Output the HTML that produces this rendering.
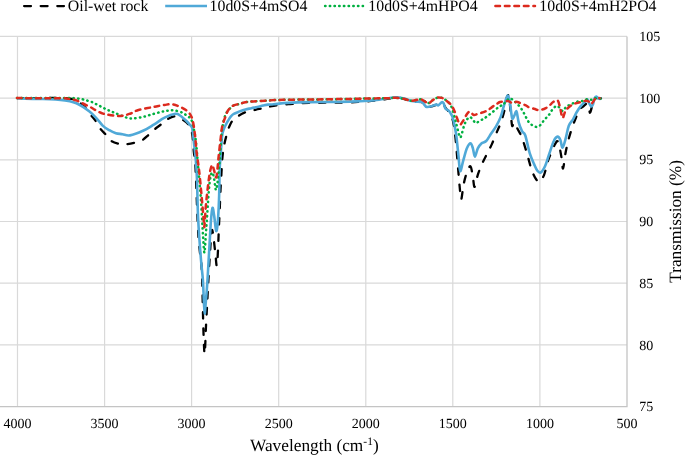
<!DOCTYPE html>
<html><head><meta charset="utf-8"><style>
html,body{margin:0;padding:0;background:#fff;}
svg{display:block;will-change:transform;}
text{font-family:"Liberation Serif",serif;fill:#000;text-rendering:geometricPrecision;}
</style></head><body>
<svg width="685" height="455" viewBox="0 0 685 455">
<rect width="685" height="455" fill="#fff"/>
<g stroke="#d9d9d9" stroke-width="1.2" fill="none"><line x1="17.5" y1="36.4" x2="17.5" y2="406.6" /><line x1="104.6" y1="36.4" x2="104.6" y2="406.6" /><line x1="191.6" y1="36.4" x2="191.6" y2="406.6" /><line x1="278.7" y1="36.4" x2="278.7" y2="406.6" /><line x1="365.8" y1="36.4" x2="365.8" y2="406.6" /><line x1="452.8" y1="36.4" x2="452.8" y2="406.6" /><line x1="539.9" y1="36.4" x2="539.9" y2="406.6" /><line x1="0" y1="36.4" x2="627" y2="36.4" /><line x1="0" y1="98.1" x2="627" y2="98.1" /><line x1="0" y1="159.8" x2="627" y2="159.8" /><line x1="0" y1="221.5" x2="627" y2="221.5" /><line x1="0" y1="283.2" x2="627" y2="283.2" /><line x1="0" y1="344.9" x2="627" y2="344.9" /></g>
<path d="M0,406.6 H627 V36.4" fill="none" stroke="#c4c4c4" stroke-width="1.3"/>
<g font-size="14.0"><text x="17.5" y="427.5" text-anchor="middle">4000</text><text x="104.6" y="427.5" text-anchor="middle">3500</text><text x="191.6" y="427.5" text-anchor="middle">3000</text><text x="278.7" y="427.5" text-anchor="middle">2500</text><text x="365.8" y="427.5" text-anchor="middle">2000</text><text x="452.8" y="427.5" text-anchor="middle">1500</text><text x="539.9" y="427.5" text-anchor="middle">1000</text><text x="627.0" y="427.5" text-anchor="middle">500</text><text x="639.3" y="41.0">105</text><text x="639.3" y="102.7">100</text><text x="639.3" y="164.4">95</text><text x="639.3" y="226.1">90</text><text x="639.3" y="287.8">85</text><text x="639.3" y="349.5">80</text><text x="639.3" y="411.2">75</text></g>
<g fill="none" stroke-linejoin="round">
<path d="M17.0,98.1 C20.0,98.1 29.5,98.1 35.0,98.1 C40.5,98.1 45.8,97.9 50.0,97.9 C54.2,97.9 56.7,98.0 60.0,98.1 C63.3,98.2 67.1,98.2 69.8,98.6 C72.5,99.0 74.0,99.2 76.4,100.5 C78.8,101.8 81.9,104.1 84.3,106.5 C86.7,108.9 88.9,112.5 90.9,115.0 C92.9,117.5 94.5,119.3 96.1,121.6 C97.7,123.9 98.6,126.5 100.3,128.7 C102.0,130.9 104.2,132.8 106.1,134.8 C107.9,136.9 109.2,139.5 111.4,141.0 C113.6,142.5 117.0,143.4 119.5,143.9 C122.0,144.4 124.0,144.4 126.5,144.2 C129.0,144.0 132.1,143.4 134.7,142.7 C137.3,142.0 140.0,141.4 142.3,140.1 C144.6,138.8 146.6,136.6 148.7,134.8 C150.8,133.0 152.4,131.1 154.6,129.3 C156.8,127.5 159.5,125.7 161.6,124.0 C163.7,122.3 165.2,120.6 167.4,119.3 C169.6,118.0 172.4,116.3 175.0,116.4 C177.6,116.5 180.6,118.5 183.0,120.0 C185.4,121.5 187.6,123.0 189.2,125.4 C190.8,127.8 191.5,130.2 192.3,134.6 C193.1,138.9 193.4,147.3 193.8,151.5 C194.2,155.7 194.7,156.2 195.0,160.0 C195.3,163.8 195.3,162.4 195.8,174.0 C196.3,185.6 197.3,216.3 198.0,229.5 C198.7,242.7 199.3,245.8 200.0,253.0 C200.7,260.2 201.3,259.7 201.9,273.0 C202.5,286.3 203.0,319.3 203.5,332.8 C204.0,346.3 204.3,355.5 204.7,354.0 C205.1,352.5 205.6,333.5 206.1,324.0 C206.6,314.5 207.1,305.5 207.5,297.0 C207.9,288.5 208.3,281.7 208.8,273.0 C209.3,264.3 210.0,252.2 210.5,245.0 C211.0,237.8 211.4,230.8 212.0,230.0 C212.6,229.2 213.2,235.8 213.8,240.0 C214.4,244.2 215.0,250.7 215.5,255.0 C216.0,259.3 216.4,266.8 216.8,266.0 C217.2,265.2 217.7,256.0 218.0,250.0 C218.3,244.0 218.5,236.7 218.8,230.0 C219.1,223.3 219.4,216.7 219.7,210.0 C220.0,203.3 220.2,196.0 220.5,190.0 C220.8,184.0 221.1,179.0 221.4,174.0 C221.7,169.0 221.8,164.5 222.2,159.8 C222.6,155.1 223.1,150.5 224.0,145.8 C224.9,141.1 226.5,135.2 227.5,131.7 C228.5,128.2 229.1,126.9 230.0,125.0 C230.9,123.1 231.6,121.7 232.8,120.3 C234.0,118.9 235.4,118.0 237.3,116.7 C239.2,115.4 242.2,113.5 244.4,112.6 C246.6,111.7 248.3,111.7 250.2,111.2 C252.1,110.7 254.4,110.0 256.0,109.6 C257.6,109.2 258.3,109.1 260.0,108.8 C261.7,108.5 263.7,108.0 266.0,107.5 C268.3,107.0 269.8,106.4 273.8,105.8 C277.8,105.2 284.0,104.5 290.0,104.0 C296.0,103.5 300.0,103.2 310.0,102.9 C320.0,102.6 339.2,102.7 350.0,102.3 C360.8,101.9 367.5,101.3 375.0,100.6 C382.5,99.8 390.3,98.1 395.0,97.8 C399.7,97.5 400.2,98.0 403.0,98.6 C405.8,99.2 408.3,100.7 411.5,101.3 C414.7,101.9 419.5,101.3 422.0,102.3 C424.5,103.2 425.0,106.3 426.6,107.0 C428.2,107.7 429.8,106.8 431.4,106.4 C433.0,106.0 434.4,105.4 436.2,104.8 C438.0,104.2 440.6,102.2 442.2,102.8 C443.8,103.4 444.7,106.6 445.9,108.3 C447.1,110.0 448.3,110.7 449.5,112.8 C450.7,114.9 452.0,116.8 453.0,121.0 C454.0,125.2 454.7,130.7 455.5,138.0 C456.3,145.3 457.1,157.0 457.8,165.0 C458.5,173.0 459.0,180.2 459.6,186.0 C460.2,191.8 460.6,199.7 461.2,199.5 C461.8,199.3 462.6,189.5 463.5,185.0 C464.4,180.5 465.7,175.5 466.9,172.4 C468.1,169.3 469.5,165.6 470.5,166.4 C471.5,167.2 472.2,173.8 472.9,177.2 C473.6,180.6 473.8,187.3 474.6,186.9 C475.4,186.5 476.5,178.8 477.8,174.8 C479.1,170.8 481.0,166.4 482.6,162.8 C484.2,159.2 485.8,156.3 487.4,153.1 C489.0,149.9 490.6,147.0 492.2,143.4 C493.8,139.8 495.7,134.8 497.1,131.4 C498.5,128.0 499.5,126.3 500.7,122.9 C501.9,119.5 503.3,115.0 504.3,110.9 C505.3,106.8 505.9,100.7 506.6,98.2 C507.4,95.7 508.2,94.0 508.8,96.0 C509.4,98.0 509.9,105.0 510.5,110.0 C511.1,115.0 511.5,123.6 512.1,125.7 C512.7,127.8 513.4,121.9 514.3,122.4 C515.2,123.0 516.3,126.5 517.6,129.0 C518.9,131.6 520.4,133.3 522.0,137.7 C523.6,142.1 525.9,149.8 527.5,155.3 C529.1,160.8 530.4,166.7 531.9,170.7 C533.4,174.7 535.0,177.7 536.3,179.5 C537.6,181.3 538.3,182.4 539.6,181.7 C540.9,181.0 542.5,178.8 544.0,175.1 C545.5,171.4 546.6,164.8 548.4,159.7 C550.2,154.6 553.4,147.2 555.0,144.3 C556.6,141.4 557.1,139.9 558.2,142.1 C559.3,144.3 560.7,153.1 561.5,157.5 C562.3,161.9 562.4,169.6 563.1,168.5 C563.8,167.4 564.7,156.8 565.9,150.9 C567.1,145.1 568.6,138.9 570.3,133.4 C571.9,127.9 574.2,122.0 575.8,118.0 C577.4,114.0 578.8,111.1 580.0,109.2 C581.2,107.3 582.0,107.4 583.1,106.5 C584.2,105.6 585.6,104.0 586.4,103.7 C587.2,103.4 587.5,103.9 588.0,104.8 C588.5,105.7 588.7,107.9 589.1,109.2 C589.5,110.5 589.6,113.6 590.2,112.5 C590.9,111.4 592.2,104.9 593.0,102.6 C593.8,100.3 594.4,99.2 595.2,98.5 C596.0,97.8 597.0,98.2 598.0,98.2 C599.0,98.2 600.5,98.4 601.0,98.4" stroke="#000" stroke-width="2.3" stroke-dasharray="6.5 9.8" stroke-linecap="round"/>
<path d="M17.0,98.3 C20.0,98.4 29.5,98.8 35.0,98.9 C40.5,99.1 45.8,99.0 50.0,99.2 C54.2,99.4 57.2,99.6 60.5,99.9 C63.8,100.2 67.1,100.7 69.8,101.2 C72.5,101.8 74.2,102.3 76.4,103.2 C78.6,104.1 80.8,105.4 83.0,106.8 C85.2,108.2 87.3,109.8 89.5,111.6 C91.7,113.4 93.9,115.5 96.1,117.8 C98.3,120.1 100.5,123.5 102.7,125.6 C104.9,127.7 107.1,128.9 109.3,130.2 C111.5,131.5 113.7,132.5 115.9,133.2 C118.1,133.9 120.2,133.8 122.5,134.2 C124.8,134.6 126.6,136.0 130.0,135.4 C133.4,134.8 139.0,132.6 143.0,130.8 C147.0,129.0 150.2,126.8 153.8,124.6 C157.4,122.4 161.0,119.5 164.6,117.7 C168.2,115.9 172.8,114.2 175.4,113.8 C178.0,113.4 178.2,114.3 180.0,115.5 C181.8,116.7 184.5,119.2 186.2,120.8 C187.9,122.4 189.0,123.7 190.0,125.0 C191.0,126.3 191.6,125.3 192.3,128.5 C193.0,131.7 193.5,138.8 194.1,144.0 C194.7,149.2 195.3,153.8 195.8,159.8 C196.3,165.8 196.6,170.0 197.0,180.0 C197.4,190.0 197.5,206.7 198.2,220.0 C198.9,233.3 200.2,250.0 201.0,260.0 C201.8,270.0 202.4,273.3 202.9,280.0 C203.4,286.7 203.5,294.4 203.8,300.0 C204.1,305.6 204.4,313.2 204.7,313.5 C205.0,313.8 205.3,307.6 205.8,302.0 C206.3,296.4 206.9,289.5 207.5,280.0 C208.1,270.5 208.9,255.0 209.5,245.0 C210.1,235.0 210.5,226.2 211.0,220.0 C211.5,213.8 212.0,208.5 212.5,207.8 C213.0,207.1 213.6,212.1 214.2,216.0 C214.8,219.9 215.6,230.0 216.2,231.0 C216.8,232.0 217.4,226.3 217.8,222.0 C218.2,217.7 218.5,211.2 218.8,205.0 C219.1,198.8 219.3,190.8 219.4,185.0 C219.5,179.2 219.4,175.8 219.6,170.4 C219.8,165.0 220.4,158.7 220.8,152.8 C221.2,146.9 221.7,139.2 222.2,135.2 C222.7,131.1 223.4,130.3 224.0,128.5 C224.6,126.7 225.3,125.6 226.0,124.3 C226.7,123.0 227.2,122.1 228.0,120.8 C228.8,119.5 229.9,117.6 230.9,116.4 C231.9,115.2 232.3,114.7 233.8,113.9 C235.3,113.1 237.8,112.2 239.7,111.4 C241.6,110.7 243.6,109.9 245.5,109.4 C247.4,108.9 249.5,108.6 251.4,108.2 C253.3,107.8 255.3,107.5 257.2,107.1 C259.1,106.7 261.2,106.0 263.0,105.6 C264.8,105.2 266.2,104.8 268.0,104.6 C269.8,104.4 270.5,104.5 273.8,104.2 C277.1,103.9 282.0,103.2 287.8,102.9 C293.6,102.6 300.1,102.3 308.8,102.1 C317.5,101.9 331.9,102.0 340.0,101.9 C348.1,101.8 351.7,101.7 357.5,101.4 C363.3,101.1 368.7,100.9 375.0,100.2 C381.3,99.5 390.5,97.6 395.2,97.3 C399.9,97.0 400.7,97.7 403.4,98.3 C406.1,98.9 409.0,100.5 411.5,101.1 C414.0,101.7 416.8,101.6 418.5,101.8 C420.2,102.0 420.9,101.4 422.0,102.0 C423.1,102.6 424.2,104.7 425.0,105.5 C425.8,106.3 425.6,106.8 426.7,106.9 C427.8,107.0 429.8,106.7 431.4,106.3 C433.0,105.9 434.9,104.8 436.1,104.6 C437.3,104.4 437.4,105.7 438.4,105.3 C439.4,104.9 441.0,102.5 441.9,102.2 C442.8,101.9 443.0,102.2 443.6,103.2 C444.2,104.2 444.5,107.1 445.4,108.4 C446.3,109.7 447.9,109.8 448.9,110.8 C449.9,111.8 450.5,112.9 451.2,114.3 C451.9,115.7 452.3,115.8 453.1,119.0 C453.9,122.2 455.1,127.4 456.0,133.4 C456.9,139.4 457.7,148.9 458.4,155.2 C459.1,161.5 459.4,170.2 460.2,171.0 C461.0,171.8 462.2,164.1 463.3,160.3 C464.4,156.5 465.7,151.1 466.9,148.3 C468.1,145.5 469.5,143.4 470.5,143.4 C471.5,143.4 472.2,146.1 472.9,148.3 C473.6,150.5 474.1,156.7 474.9,156.7 C475.7,156.7 476.7,150.5 477.8,148.3 C478.9,146.1 480.0,144.6 481.4,143.4 C482.8,142.2 484.6,142.6 486.2,141.0 C487.8,139.4 489.4,136.2 491.0,133.8 C492.6,131.4 494.3,129.4 495.9,126.6 C497.5,123.8 499.3,120.7 500.7,116.9 C502.1,113.1 503.2,107.6 504.4,104.0 C505.6,100.4 506.8,95.7 507.7,95.5 C508.6,95.3 509.2,98.8 509.9,102.6 C510.6,106.3 511.4,115.8 512.1,118.0 C512.8,120.2 513.6,116.9 514.3,115.8 C515.0,114.7 515.8,110.3 516.5,111.4 C517.2,112.5 517.8,119.1 518.7,122.4 C519.6,125.7 520.9,129.0 522.0,131.2 C523.1,133.4 524.0,131.8 525.3,135.5 C526.6,139.2 528.2,148.3 529.7,153.1 C531.2,157.9 532.8,161.2 534.1,164.1 C535.4,167.0 536.3,169.3 537.4,170.7 C538.5,172.1 539.4,173.2 540.7,172.5 C542.0,171.8 543.5,169.5 545.0,166.3 C546.5,163.1 548.0,157.3 549.5,153.1 C551.0,148.9 552.4,143.8 553.8,141.0 C555.1,138.2 556.5,136.8 557.6,136.6 C558.7,136.4 559.6,138.2 560.4,140.0 C561.2,141.8 561.7,148.0 562.6,147.6 C563.5,147.2 564.9,141.3 565.9,137.7 C566.9,134.0 567.6,128.8 568.8,125.7 C570.0,122.6 571.9,121.3 573.2,119.1 C574.5,116.9 575.2,114.7 576.5,112.5 C577.8,110.3 579.4,107.7 580.9,105.9 C582.4,104.1 584.2,102.6 585.3,101.5 C586.4,100.4 586.9,99.0 587.5,99.3 C588.1,99.6 588.5,101.9 589.1,103.1 C589.7,104.3 590.6,106.2 591.3,106.4 C591.9,106.6 592.5,105.6 593.0,104.2 C593.5,102.8 594.1,99.5 594.6,98.2 C595.1,96.9 595.6,96.4 596.3,96.5 C597.0,96.6 598.2,98.3 599.0,98.7 C599.8,99.1 600.8,98.7 601.2,98.7" stroke="#50a9d8" stroke-width="2.6"/>
<path d="M17.0,98.0 C22.5,98.0 41.2,97.9 50.0,97.9 C58.8,97.9 65.6,97.9 70.0,98.0 C74.4,98.1 74.3,98.2 76.4,98.4 C78.5,98.6 80.8,99.0 82.6,99.3 C84.4,99.6 85.5,100.1 87.0,100.5 C88.5,100.9 90.2,101.4 91.6,101.9 C93.0,102.5 94.1,103.1 95.5,103.8 C96.9,104.5 98.4,105.3 99.8,106.0 C101.2,106.7 102.6,107.5 104.0,108.2 C105.4,108.9 106.7,109.5 108.0,110.1 C109.3,110.7 110.7,111.2 112.0,111.8 C113.3,112.3 114.2,112.7 116.0,113.4 C117.8,114.1 120.0,115.2 122.5,116.1 C125.0,116.9 127.4,118.4 130.8,118.5 C134.2,118.6 139.2,117.7 143.0,116.9 C146.8,116.1 150.2,114.8 153.8,113.8 C157.4,112.8 161.3,111.8 164.6,111.2 C167.9,110.6 170.7,110.0 173.8,110.3 C176.9,110.6 180.7,111.9 183.0,113.0 C185.3,114.1 186.6,115.8 187.9,116.7 C189.2,117.6 189.9,116.9 190.8,118.5 C191.7,120.1 192.4,122.7 193.2,126.4 C194.0,130.1 195.0,134.1 195.8,140.5 C196.6,146.9 197.2,155.2 198.0,165.0 C198.8,174.8 200.1,187.6 200.9,199.3 C201.7,211.0 202.4,226.1 203.0,235.0 C203.6,243.9 203.9,252.6 204.4,252.6 C204.9,252.6 205.4,240.6 205.8,235.0 C206.2,229.4 206.4,226.3 206.9,219.0 C207.4,211.7 208.2,198.3 208.8,191.4 C209.4,184.5 209.8,180.7 210.4,177.5 C211.0,174.3 211.6,172.6 212.2,172.5 C212.8,172.4 213.3,174.9 213.8,177.0 C214.3,179.1 214.6,182.8 215.0,185.0 C215.4,187.2 215.6,190.2 216.0,190.0 C216.4,189.8 216.9,186.5 217.3,184.0 C217.7,181.5 218.0,178.2 218.3,175.0 C218.6,171.8 219.0,168.7 219.3,165.0 C219.6,161.3 219.8,158.8 220.2,153.0 C220.6,147.2 221.2,136.2 222.0,130.0 C222.8,123.8 224.0,119.2 225.0,116.0 C226.0,112.8 226.9,112.2 228.0,110.7 C229.1,109.2 230.5,107.9 231.5,107.0 C232.5,106.1 232.4,106.0 233.8,105.5 C235.2,105.0 237.8,104.3 239.7,103.8 C241.6,103.2 243.6,102.6 245.5,102.2 C247.4,101.8 249.5,101.8 251.4,101.6 C253.3,101.4 254.9,101.3 257.2,101.2 C259.5,101.1 260.8,100.9 265.0,100.7 C269.2,100.5 273.8,100.0 282.6,99.8 C291.4,99.6 306.4,99.6 317.6,99.4 C328.8,99.2 341.9,99.1 350.0,98.9 C358.1,98.8 360.1,98.6 366.3,98.5 C372.5,98.4 382.2,98.3 387.0,98.2 C391.8,98.1 392.5,97.7 395.2,97.8 C397.9,97.9 400.7,98.2 403.4,98.7 C406.1,99.2 409.0,100.7 411.5,100.8 C414.0,100.9 416.8,99.6 418.5,99.4 C420.2,99.2 420.6,99.2 422.0,99.7 C423.4,100.2 425.5,101.9 426.7,102.4 C427.9,103.0 428.0,103.3 429.0,103.0 C430.0,102.7 431.2,101.2 432.6,100.3 C434.0,99.4 435.6,98.2 437.2,97.8 C438.8,97.4 440.3,97.4 441.9,97.9 C443.5,98.4 445.1,99.4 446.6,100.8 C448.1,102.2 449.7,103.2 451.1,106.1 C452.5,109.0 453.9,114.8 454.8,118.0 C455.7,121.2 456.0,122.5 456.6,125.0 C457.2,127.5 458.0,130.9 458.6,133.0 C459.2,135.1 459.7,137.5 460.3,137.5 C460.9,137.5 461.3,135.1 462.0,133.0 C462.7,130.9 463.5,127.2 464.3,125.0 C465.1,122.8 466.1,120.8 467.0,119.5 C467.9,118.2 468.7,117.1 469.6,117.0 C470.5,116.9 471.6,118.1 472.5,119.0 C473.4,119.9 474.2,121.9 475.0,122.5 C475.8,123.1 476.3,123.0 477.0,122.8 C477.7,122.5 478.0,121.6 479.0,121.0 C480.0,120.4 481.6,120.0 482.8,119.3 C484.0,118.6 484.4,118.3 486.2,117.0 C487.9,115.7 491.3,113.1 493.3,111.5 C495.3,109.9 496.7,108.5 498.0,107.5 C499.3,106.5 500.3,106.1 501.2,105.6 C502.1,105.1 502.3,105.3 503.2,104.5 C504.1,103.7 505.6,101.8 506.7,100.8 C507.8,99.8 508.7,98.3 509.8,98.2 C510.9,98.1 512.3,99.5 513.5,100.4 C514.7,101.3 515.9,102.7 517.0,103.8 C518.1,104.9 519.1,105.8 520.1,107.0 C521.1,108.2 522.0,109.8 522.8,111.2 C523.6,112.6 524.4,114.1 525.1,115.4 C525.8,116.7 526.2,117.9 527.0,119.2 C527.8,120.5 528.6,122.2 529.7,123.3 C530.8,124.4 532.2,125.2 533.5,125.8 C534.8,126.4 536.1,127.2 537.4,126.9 C538.7,126.6 540.1,125.3 541.2,124.2 C542.3,123.1 542.9,121.6 543.9,120.4 C544.9,119.2 546.0,118.1 547.0,116.9 C548.0,115.8 549.1,114.8 550.1,113.5 C551.1,112.2 551.5,110.5 552.7,109.2 C553.9,107.9 555.6,105.7 557.1,105.9 C558.6,106.1 560.5,109.5 561.5,110.3 C562.5,111.1 562.6,111.3 563.3,110.8 C564.0,110.3 564.8,108.2 565.9,107.2 C567.0,106.2 567.9,105.8 569.9,104.8 C571.9,103.8 575.4,102.2 577.6,101.5 C579.8,100.8 581.6,101.3 583.1,100.9 C584.6,100.5 585.4,99.5 586.9,99.3 C588.4,99.1 590.5,100.0 591.9,99.8 C593.3,99.6 593.7,98.4 595.2,98.2 C596.7,98.0 599.8,98.6 600.7,98.7" stroke="#00b040" stroke-width="2.5" stroke-dasharray="0.4 4.3" stroke-linecap="round"/>
<path d="M17.0,98.1 C22.5,98.1 42.3,98.2 50.0,98.2 C57.7,98.2 59.9,98.1 63.2,98.2 C66.5,98.3 67.7,98.7 69.8,99.0 C71.9,99.3 73.6,99.5 75.8,100.2 C78.0,101.0 80.9,102.6 82.8,103.5 C84.7,104.4 85.6,104.8 87.0,105.5 C88.4,106.2 89.7,106.7 91.0,107.4 C92.3,108.1 93.6,109.0 95.0,109.8 C96.4,110.6 97.9,111.5 99.2,112.1 C100.5,112.7 101.6,113.2 103.0,113.6 C104.4,114.0 105.2,114.2 107.4,114.6 C109.6,115.0 113.4,115.7 115.9,115.9 C118.4,116.1 120.2,116.1 122.5,115.7 C124.8,115.3 127.3,114.7 130.0,113.7 C132.7,112.8 134.5,111.1 138.5,110.0 C142.5,108.9 149.5,107.8 153.8,106.9 C158.2,106.1 161.5,105.3 164.6,104.9 C167.7,104.5 169.7,104.0 172.3,104.3 C174.9,104.6 177.4,105.7 180.0,106.9 C182.6,108.1 185.6,109.5 187.7,111.5 C189.8,113.5 191.1,115.0 192.3,119.0 C193.5,123.0 194.3,129.6 195.0,135.2 C195.7,140.8 196.0,147.1 196.7,152.8 C197.4,158.6 198.1,161.9 199.0,169.7 C199.9,177.4 201.1,190.4 201.9,199.3 C202.7,208.2 203.5,218.6 203.9,223.0 C204.3,227.4 204.2,228.4 204.5,225.5 C204.8,222.6 205.2,213.0 205.9,205.3 C206.6,197.6 208.0,185.5 208.8,179.5 C209.6,173.5 209.9,171.9 210.5,169.5 C211.1,167.1 211.7,164.9 212.3,165.0 C212.9,165.1 213.3,167.9 214.0,170.0 C214.7,172.1 215.6,178.1 216.2,177.5 C216.8,176.9 217.3,170.1 217.7,166.5 C218.1,162.9 218.2,160.2 218.7,155.8 C219.2,151.4 219.9,144.9 220.5,140.0 C221.1,135.1 221.3,130.4 222.2,126.4 C223.1,122.4 224.8,118.5 225.8,115.8 C226.8,113.1 227.1,112.0 228.0,110.5 C228.9,109.0 230.5,107.8 231.5,106.9 C232.5,106.1 232.4,105.9 233.8,105.4 C235.2,104.9 237.8,104.3 239.7,103.8 C241.6,103.3 243.6,102.6 245.5,102.2 C247.4,101.8 249.5,101.8 251.4,101.6 C253.3,101.4 254.9,101.3 257.2,101.2 C259.5,101.1 260.8,100.9 265.0,100.7 C269.2,100.5 273.8,100.0 282.6,99.8 C291.4,99.6 306.4,99.6 317.6,99.4 C328.8,99.2 341.9,99.1 350.0,98.9 C358.1,98.8 360.1,98.6 366.3,98.5 C372.5,98.4 382.2,98.3 387.0,98.2 C391.8,98.1 392.5,97.7 395.2,97.8 C397.9,97.9 400.7,98.2 403.4,98.7 C406.1,99.2 409.0,100.7 411.5,100.8 C414.0,100.9 416.8,99.6 418.5,99.4 C420.2,99.2 420.6,99.2 422.0,99.7 C423.4,100.2 425.5,102.0 426.7,102.6 C427.9,103.2 428.0,103.6 429.0,103.2 C430.0,102.8 431.2,101.2 432.6,100.3 C434.0,99.4 435.6,98.0 437.2,97.6 C438.8,97.2 440.3,97.4 441.9,97.9 C443.5,98.4 445.1,99.7 446.6,100.8 C448.1,101.9 449.8,103.3 451.0,104.8 C452.2,106.3 453.1,108.0 454.0,110.0 C454.9,112.0 455.9,115.0 456.6,117.0 C457.4,119.0 457.9,120.8 458.5,122.0 C459.1,123.2 459.7,124.4 460.3,124.5 C460.9,124.6 461.3,123.4 462.0,122.5 C462.7,121.6 463.5,120.4 464.3,119.0 C465.1,117.6 466.1,115.2 467.0,114.0 C467.9,112.8 468.8,111.7 469.6,111.6 C470.4,111.5 471.3,112.9 472.0,113.5 C472.7,114.1 473.1,114.9 474.0,115.0 C474.9,115.1 476.3,114.4 477.5,114.0 C478.7,113.6 480.1,113.2 481.4,112.8 C482.7,112.4 484.2,111.9 485.4,111.4 C486.6,110.9 487.3,110.6 488.6,109.7 C489.9,108.8 492.1,106.9 493.3,106.1 C494.5,105.2 494.8,105.3 495.9,104.6 C497.0,103.9 498.5,102.5 500.0,102.0 C501.5,101.5 503.8,101.8 505.0,101.6 C506.2,101.4 506.6,101.0 507.3,101.0 C508.1,101.0 508.7,101.3 509.5,101.6 C510.3,101.9 511.2,102.9 512.0,103.0 C512.8,103.1 513.6,102.4 514.5,102.2 C515.4,102.0 516.3,101.7 517.4,101.9 C518.5,102.1 519.8,102.9 521.2,103.5 C522.6,104.1 524.5,104.8 525.8,105.4 C527.1,106.0 527.5,106.7 528.9,107.3 C530.3,107.9 532.9,108.3 534.3,108.8 C535.7,109.2 536.1,109.9 537.4,110.0 C538.7,110.1 540.6,109.9 542.0,109.6 C543.4,109.3 544.4,108.9 545.8,108.1 C547.2,107.3 549.4,105.5 550.5,104.6 C551.6,103.7 551.3,103.2 552.5,102.5 C553.7,101.8 556.3,99.3 557.6,100.4 C558.9,101.5 559.6,106.3 560.4,109.2 C561.2,112.1 561.7,117.8 562.6,118.0 C563.5,118.2 564.2,112.5 565.9,110.3 C567.5,108.0 570.4,105.8 572.5,104.5 C574.6,103.2 576.6,103.2 578.7,102.6 C580.8,102.0 583.6,101.1 585.3,100.9 C586.9,100.7 587.7,101.0 588.6,101.5 C589.5,102.0 590.1,104.1 590.8,104.2 C591.5,104.3 592.3,102.9 593.0,102.0 C593.7,101.1 594.4,99.4 595.2,98.7 C596.0,98.0 597.2,97.7 597.9,97.6 C598.6,97.5 599.3,98.1 599.6,98.2" stroke="#dc2a1e" stroke-width="2.5" stroke-dasharray="4.6 4.9" stroke-linecap="round"/>
</g>
<g font-size="15.85">
<line x1="24.1" y1="6.1" x2="64" y2="6.1" stroke="#000" stroke-width="2.3" stroke-dasharray="6.9 9.7" stroke-linecap="round"/>
<text x="67.8" y="10.9">Oil-wet rock</text>
<line x1="165.2" y1="6" x2="207" y2="6" stroke="#50a9d8" stroke-width="2.6"/>
<text x="209.6" y="10.9">10d0S+4mSO4</text>
<line x1="325.1" y1="6" x2="363" y2="6" stroke="#00b040" stroke-width="2.5" stroke-dasharray="0.4 4.3" stroke-linecap="round"/>
<text x="368.3" y="10.9">10d0S+4mHPO4</text>
<line x1="495.4" y1="6" x2="535" y2="6" stroke="#dc2a1e" stroke-width="2.5" stroke-dasharray="4.6 4.9" stroke-linecap="round"/>
<text x="539.3" y="10.9">10d0S+4mH2PO4</text>
</g><g font-size="17.3"><text x="250" y="451">Wavelength (cm<tspan font-size="11.5" dy="-6.5">-1</tspan><tspan dy="6.5">)</tspan></text>
<text transform="translate(681.3,282.8) rotate(-90)">Transmission (%)</text>
</g>
</svg>
</body></html>
